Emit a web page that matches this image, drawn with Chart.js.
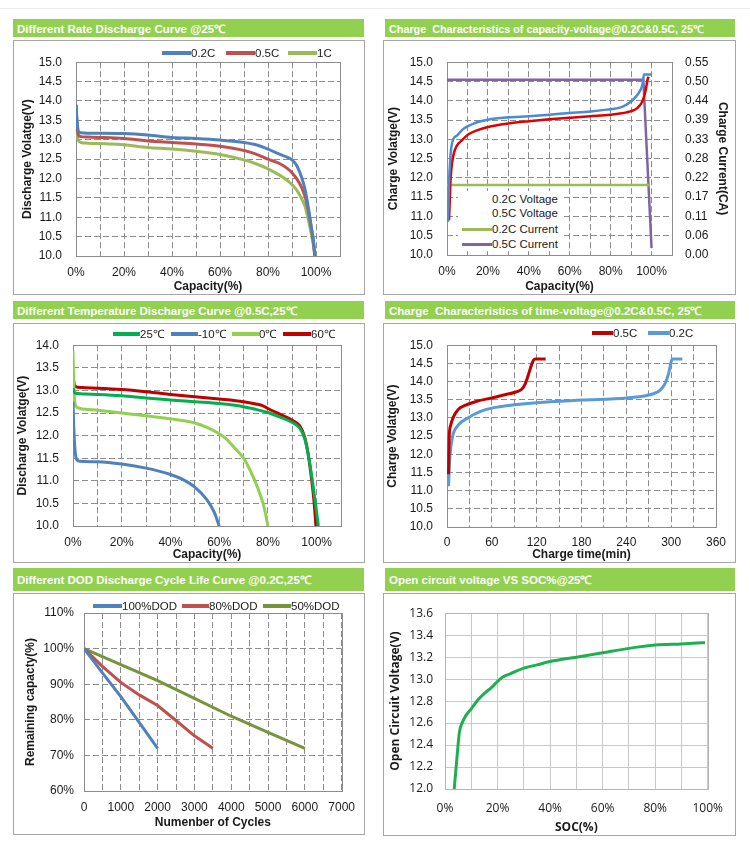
<!DOCTYPE html>
<html lang="en">
<head>
<meta charset="UTF-8">
<title>LiFePO4 12V Battery Curves</title>
<style>
    * { box-sizing: border-box; margin: 0; padding: 0; }
    body {
        width: 750px; height: 854px; position: relative; overflow: hidden;
        background: #fff; font-family: "Liberation Sans", Arial, sans-serif;
    }
    .rule { position: absolute; left: 0; top: 8px; width: 750px; height: 1px; background: #ededed; }
    .head {
        position: absolute; background: #92d050; color: #fff;
        font-weight: bold; font-size: 11.5px; padding-left: 4px;
        white-space: pre; display: flex; align-items: center; overflow: hidden;
    }
    .box { position: absolute; border: 1px solid #a6a6a6; background: #fff; }
    .box canvas { display: block; }
    .leg {
        position: absolute; font-size: 11.5px; color: #1a1a1a; white-space: pre;
        display: flex; align-items: center; height: 14px; line-height: 14px;
    }
    .leg i { display: inline-block; }
    #leg2 { position: absolute; left: 458px; top: 191px; width: 104px; height: 60px; background: #fff; }
</style>
</head>
<body>
    <div class="rule"></div>

    <div class="head" style="left:13px;top:19px;width:351px;height:18px">Different Rate Discharge Curve @25℃</div>
    <div class="box" style="left:13px;top:40px;width:352px;height:255px"><canvas id="c1" width="350" height="253"></canvas></div>

    <div class="head" style="left:385px;top:19px;width:350px;height:18px;font-size:10.8px">Charge  Characteristics of capacity-voltage@0.2C&amp;0.5C, 25℃</div>
    <div class="box" style="left:383px;top:40px;width:353px;height:255px"><canvas id="c2" width="351" height="253"></canvas></div>

    <div class="head" style="left:13px;top:301px;width:351px;height:18px">Different Temperature Discharge Curve @0.5C,25℃</div>
    <div class="box" style="left:13px;top:323px;width:352px;height:240px"><canvas id="c3" width="350" height="238"></canvas></div>

    <div class="head" style="left:385px;top:301px;width:350px;height:18px">Charge  Characteristics of time-voltage@0.2C&amp;0.5C, 25℃</div>
    <div class="box" style="left:383px;top:323px;width:353px;height:240px"><canvas id="c4" width="351" height="238"></canvas></div>

    <div class="head" style="left:13px;top:568px;width:351px;height:23px">Different DOD Discharge Cycle Life Curve @0.2C,25℃</div>
    <div class="box" style="left:13px;top:593px;width:352px;height:242px"><canvas id="c5" width="350" height="240"></canvas></div>

    <div class="head" style="left:385px;top:568px;width:350px;height:23px">Open circuit voltage VS SOC%@25℃</div>
    <div class="box" style="left:383px;top:593px;width:353px;height:243px"><canvas id="c6" width="351" height="241"></canvas></div>

    <div id="leg2"></div>

    <script src="https://cdn.jsdelivr.net/npm/chart.js@4.4.1/dist/chart.umd.min.js"></script>
    <script>
        "use strict";

        // ---- 1. rate discharge (capacity %, volts) ----
        const rateLabels    = ["0.2C", "0.5C", "1C"]
        const rateCapacity  = [0, 0.5, 1, 2, 5, 10, 20, 30, 40, 50, 60, 70, 75, 80, 85, 88, 90, 92, 94, 95.5, 97, 98, 99, 99.5]
        const rateV02       = [13.9, 13.45, 13.22, 13.18, 13.17, 13.17, 13.16, 13.12, 13.06, 13.03, 12.99, 12.93, 12.87, 12.76, 12.62, 12.55, 12.48, 12.33, 12.03, 11.7, 11.18, 10.75, 10.37, 10.0]
        const rateV05       = [13.9, 13.3, 13.12, 13.08, 13.07, 13.06, 13.03, 12.97, 12.93, 12.89, 12.83, 12.72, 12.63, 12.5, 12.38, 12.26, 12.15, 11.99, 11.77, 11.52, 11.1, 10.75, 10.32, 10.0]
        const rateV1        = [13.9, 13.2, 12.98, 12.93, 12.91, 12.9, 12.87, 12.8, 12.76, 12.7, 12.62, 12.48, 12.38, 12.25, 12.08, 11.95, 11.84, 11.7, 11.48, 11.27, 10.88, 10.58, 10.24, 10.0]

        // ---- 2. charge capacity-voltage + current ----
        const chgLabels     = ["0.2C Voltage", "0.5C Voltage", "0.2C Current", "0.5C Current"]
        const chgCap02      = [0.5, 1, 1.5, 2, 3, 5, 7.5, 14, 20, 30, 40, 50, 60, 70, 78, 85, 90, 93, 95.5, 96.3, 100]
        const chgV02        = [10.86, 11.9, 12.4, 12.75, 13.0, 13.1, 13.25, 13.43, 13.51, 13.57, 13.6, 13.64, 13.68, 13.72, 13.77, 13.83, 13.98, 14.15, 14.41, 14.68, 14.68]
        const chgCap05      = [1, 1.8, 3.2, 5, 7, 10.5, 15, 20, 30, 40, 50, 60, 70, 80, 90, 93, 95.5, 97, 98.2, 98.7]
        const chgV05        = [10.9, 12.0, 12.6, 12.85, 12.96, 13.13, 13.24, 13.32, 13.41, 13.47, 13.52, 13.56, 13.6, 13.64, 13.73, 13.81, 13.98, 14.24, 14.58, 14.62]
        const curCap02      = [0, 99]
        const cur02         = [0.2, 0.2]
        const curCap05      = [0, 96, 100]
        const cur05         = [0.5, 0.5, 0.02]
        const currentTicks  = ["0.00", "0.06", "0.11", "0.17", "0.22", "0.28", "0.33", "0.39", "0.44", "0.50", "0.55"]

        // ---- 3. temperature discharge ----
        const tempLabels    = ["25℃", "-10℃", "0℃", "60℃"]
        const tempCap25     = [0, 0.5, 1, 2, 5, 10, 20, 30, 40, 50, 60, 70, 75, 80, 85, 90, 93, 95, 96.5, 98, 99, 100, 100.7]
        const tempV25       = [13.05, 12.97, 12.94, 12.93, 12.92, 12.91, 12.88, 12.83, 12.79, 12.75, 12.71, 12.64, 12.58, 12.51, 12.41, 12.29, 12.17, 11.95, 11.6, 11.1, 10.7, 10.3, 10.0]
        const tempCapM10    = [0, 0.3, 0.8, 1.5, 3, 10, 20, 30, 40, 45, 50, 55, 58, 60]
        const tempVM10      = [12.75, 12.2, 11.7, 11.47, 11.43, 11.42, 11.37, 11.28, 11.14, 11.03, 10.86, 10.58, 10.3, 10.0]
        const tempCap0      = [0, 0.3, 0.7, 1.5, 3, 10, 20, 30, 40, 50, 55, 60, 63, 66, 70, 73, 76, 78, 79, 80]
        const tempV0        = [13.88, 13.2, 12.75, 12.63, 12.6, 12.56, 12.5, 12.44, 12.37, 12.28, 12.18, 12.04, 11.92, 11.75, 11.5, 11.2, 10.82, 10.5, 10.28, 10.0]
        const tempCap60     = [0, 0.3, 1, 2, 5, 10, 20, 30, 40, 50, 60, 70, 75, 78, 80, 85, 90, 93, 95, 96.5, 98, 99, 99.7]
        const tempV60       = [13.42, 13.2, 13.09, 13.07, 13.06, 13.05, 13.02, 12.97, 12.91, 12.86, 12.81, 12.75, 12.7, 12.66, 12.6, 12.47, 12.34, 12.22, 11.98, 11.6, 11.0, 10.5, 10.0]

        // ---- 4. charge time-voltage (min, volts) ----
        const timeLabels    = ["0.5C", "0.2C"]
        const time05        = [2, 2.5, 3, 5, 8, 15, 25, 40, 60, 80, 90, 100, 105, 110, 115, 118, 132]
        const timeV05       = [11.45, 12.0, 12.5, 12.8, 13.0, 13.23, 13.35, 13.46, 13.55, 13.65, 13.7, 13.79, 13.95, 14.26, 14.56, 14.62, 14.62]
        const time02        = [2, 3, 4, 7, 15, 28, 45, 60, 90, 120, 180, 240, 270, 285, 292, 297, 300, 302, 315]
        const timeV02       = [11.12, 11.6, 11.97, 12.45, 12.8, 13.0, 13.18, 13.27, 13.36, 13.42, 13.49, 13.55, 13.63, 13.76, 13.95, 14.26, 14.55, 14.62, 14.62]

        // ---- 5. cycle life (cycles, remaining %) ----
        const dodLabels     = ["100%DOD", "80%DOD", "50%DOD"]
        const dod100Cycles  = [0, 500, 1000, 1500, 2000]
        const dod100        = [100, 93.2, 86.5, 79.3, 72]
        const dod80Cycles   = [0, 500, 1000, 1500, 2000, 2500, 3000, 3500]
        const dod80         = [100, 95, 90.5, 87, 84, 79.8, 75.5, 72]
        const dod50Cycles   = [0, 1000, 2000, 3000, 4000, 5000, 6000]
        const dod50         = [100, 95.5, 91, 86, 81, 76.5, 72]

        // ---- 6. open circuit voltage vs SOC ----
        const socPct        = [3.5, 4.5, 5.5, 6.5, 8, 10, 12.5, 15, 18, 20, 22, 25, 30, 35, 40, 50, 60, 70, 80, 90, 98, 99]
        const ocv           = [12.0, 12.27, 12.52, 12.6, 12.67, 12.73, 12.81, 12.87, 12.93, 12.98, 13.02, 13.05, 13.1, 13.13, 13.16, 13.2, 13.24, 13.28, 13.31, 13.32, 13.33, 13.33]

        Chart.defaults.font.family  = '"Liberation Sans", Arial, sans-serif'
        Chart.defaults.font.size    = 12
        Chart.defaults.color        = '#1a1a1a'

        function pts(xs, ys) { return xs.map((x, i) => ({ x: x, y: ys[i] })) }

        function series(label, xs, ys, color, width, extra) {
            return Object.assign({
                label: label, data: pts(xs, ys), borderColor: color, backgroundColor: color,
                borderWidth: width, pointRadius: 0, fill: false, cubicInterpolationMode: 'monotone'
            }, extra || {})
        }

        // solid frame round the plot area (grid lines are dashed)
        const framePlugin = {
            id: 'frame',
            beforeDatasetsDraw(chart, args, opts) {
                const a = chart.chartArea, ctx = chart.ctx
                ctx.save()
                ctx.strokeStyle = opts.color || '#8c8c8c'
                ctx.lineWidth = 1
                ctx.strokeRect(Math.round(a.left) + 0.5, Math.round(a.top) + 0.5,
                               Math.round(a.right - a.left), Math.round(a.bottom - a.top))
                ctx.restore()
            }
        }

        const dashGrid  = { grid: { color: '#8c8c8c', drawTicks: false }, border: { display: false, dash: [6, 3] } }
        const solidGrid = { grid: { color: '#c8c8c8', drawTicks: false }, border: { display: false } }
        const noGrid    = { grid: { display: false, drawTicks: false }, border: { display: false } }

        function axis(min, max, step, fmt, title, tickPad, titlePad, gridStyle, fontFamily) {
            const f = fontFamily ? { family: fontFamily } : {}
            return Object.assign({
                type: 'linear', min: min, max: max,
                ticks: { stepSize: step, autoSkip: false, maxRotation: 0, padding: tickPad, callback: fmt, font: Object.assign({ size: 12 }, f) },
                title: { display: true, text: title, padding: titlePad,
                         font: Object.assign({ size: 12, weight: 'bold' }, f) }
            }, gridStyle)
        }

        function makeChart(id, area, datasets, xOpts, yOpts, y1Opts, frameColor) {
            const canvas = document.getElementById(id)
            const W = canvas.width, H = canvas.height
            xOpts.afterFit = s => { s.height = H - area.b }
            yOpts.afterFit = s => { s.width = area.l }
            const scales = { x: xOpts, y: yOpts }
            if (y1Opts) {
                y1Opts.position = 'right'
                y1Opts.afterFit = s => { s.width = W - area.r }
                scales.y1 = y1Opts
            }
            return new Chart(canvas, {
                type: 'line',
                data: { datasets: datasets },
                options: {
                    responsive: false,
                    animation: false,
                    layout: { padding: { top: area.t, right: y1Opts ? 0 : W - area.r, bottom: 0, left: 0 } },
                    plugins: { legend: { display: false }, tooltip: { enabled: false }, frame: { color: frameColor } },
                    scales: scales
                },
                plugins: [framePlugin]
            })
        }

        // html legend entries: line swatch + label
        function legend(parent, left, top, color, text, len, thick) {
            const d = document.createElement('div')
            d.className = 'leg'
            d.style.left = left + 'px'
            d.style.top = (top - 7) + 'px'
            const sw = document.createElement('i')
            sw.style.width = len + 'px'
            sw.style.height = thick + 'px'
            sw.style.background = color
            const t = document.createElement('span')
            t.textContent = text
            d.appendChild(sw)
            d.appendChild(t)
            parent.appendChild(d)
        }

        const pct20 = v => (v % 20 === 0 && v <= 100) ? v + '%' : ''
        const fix1  = v => v.toFixed(1)

        // 1
        makeChart('c1', { l: 62, t: 20, r: 326, b: 215 }, [
            series(rateLabels[0], rateCapacity, rateV02, '#4f81bd', 3),
            series(rateLabels[1], rateCapacity, rateV05, '#c0504d', 3),
            series(rateLabels[2], rateCapacity, rateV1, '#9bbb59', 3)
        ],
            axis(0, 110, 10, pct20, 'Capacity(%)', 9, { top: 0, bottom: 0 }, dashGrid),
            axis(10, 15, 0.5, fix1, 'Discharge Volatge(V)', 14, { top: 6, bottom: 0 }, dashGrid))

        // 2
        makeChart('c2', { l: 63, t: 19, r: 288, b: 214 }, [
            series(chgLabels[0], chgCap02, chgV02, '#4a8bd4', 2.5),
            series(chgLabels[1], chgCap05, chgV05, '#e00000', 2.5),
            series(chgLabels[2], curCap02, cur02, '#9bbb59', 2.5, { yAxisID: 'y1', cubicInterpolationMode: 'default', tension: 0 }),
            series(chgLabels[3], curCap05, cur05, '#8064a2', 2.5, { yAxisID: 'y1', cubicInterpolationMode: 'default', tension: 0 })
        ],
            axis(0, 110, 10, pct20, 'Capacity(%)', 9, { top: 0, bottom: 0 }, dashGrid),
            axis(10, 15, 0.5, fix1, 'Charge Volatge(V)', 14, { top: 2, bottom: 0 }, dashGrid),
            axis(0, 0.55, 0.055, (v, i) => currentTicks[i], 'Charge Current(CA)', 13, { top: 5, bottom: 0 }, noGrid))

        // 3
        makeChart('c3', { l: 59, t: 19, r: 327, b: 202 }, [
            series(tempLabels[0], tempCap25, tempV25, '#00b050', 3),
            series(tempLabels[1], tempCapM10, tempVM10, '#4f81bd', 3),
            series(tempLabels[2], tempCap0, tempV0, '#92d050', 3),
            series(tempLabels[3], tempCap60, tempV60, '#c00000', 3)
        ],
            axis(0, 110, 10, pct20, 'Capacity(%)', 9, { top: 0, bottom: 0 }, dashGrid),
            axis(10, 14, 0.5, fix1, 'Discharge Volatge(V)', 14, { top: 1, bottom: 0 }, dashGrid))

        // 4
        makeChart('c4', { l: 63, t: 17, r: 332, b: 203 }, [
            series(timeLabels[0], time05, timeV05, '#c00000', 3),
            series(timeLabels[1], time02, timeV02, '#5b9bd5', 3)
        ],
            axis(0, 360, 30, v => v % 60 === 0 ? String(v) : '', 'Charge time(min)', 8, { top: 0, bottom: 0 }, dashGrid),
            axis(10, 15, 0.5, fix1, 'Charge Volatge(V)', 14, { top: 1, bottom: 0 }, dashGrid))

        // 5
        makeChart('c5', { l: 70, t: 19, r: 329, b: 197 }, [
            series(dodLabels[0], dod100Cycles, dod100, '#4f81bd', 3, { cubicInterpolationMode: 'default', tension: 0 }),
            series(dodLabels[1], dod80Cycles, dod80, '#c0504d', 3, { cubicInterpolationMode: 'default', tension: 0 }),
            series(dodLabels[2], dod50Cycles, dod50, '#77933c', 3, { cubicInterpolationMode: 'default', tension: 0 })
        ],
            axis(0, 7000, 500, v => v % 1000 === 0 ? String(v) : '', 'Numenber of Cycles', 9, { top: 0, bottom: 4 }, dashGrid),
            axis(60, 110, 10, v => v + '%', 'Remaining capacty(%)', 10, { top: 9, bottom: 0 }, dashGrid))

        // 6
        makeChart('c6', { l: 61, t: 14, r: 330, b: 195 }, [
            series('OCV', socPct, ocv, '#1eb050', 3)
        ],
            axis(0, 100, 10, pct20, 'SOC(%)', 12, { top: 0, bottom: 0 }, solidGrid, '"Open Sans", sans-serif'),
            axis(12, 13.6, 0.2, fix1, 'Open Circuit Voltage(V)', 12, { top: 4, bottom: 0 }, solidGrid, '"Open Sans", sans-serif'),
            null, '#b4b4b4')

        // legends
        const body = document.body
        legend(body, 162, 53, '#4f81bd', rateLabels[0], 29, 4)
        legend(body, 226, 53, '#c0504d', rateLabels[1], 29, 4)
        legend(body, 288, 53, '#9bbb59', rateLabels[2], 29, 4)

        const leg2 = document.getElementById('leg2')
        legend(leg2, 4, 8, 'transparent', chgLabels[0], 30, 3)
        legend(leg2, 4, 22, 'transparent', chgLabels[1], 30, 3)
        legend(leg2, 4, 38, '#9bbb59', chgLabels[2], 30, 3)
        legend(leg2, 4, 53, '#8064a2', chgLabels[3], 30, 3)

        legend(body, 113, 334, '#00b050', tempLabels[0], 27, 4)
        legend(body, 171, 334, '#4f81bd', tempLabels[1], 27, 4)
        legend(body, 232, 334, '#92d050', tempLabels[2], 27, 4)
        legend(body, 283, 334, '#c00000', tempLabels[3], 28, 4)

        legend(body, 592, 333, '#c00000', timeLabels[0], 21, 4)
        legend(body, 648, 333, '#5b9bd5', timeLabels[1], 21, 4)

        legend(body, 93, 606, '#4f81bd', dodLabels[0], 29, 4)
        legend(body, 182, 606, '#c0504d', dodLabels[1], 27, 4)
        legend(body, 263, 606, '#77933c', dodLabels[2], 28, 4)
    </script>
</body>
</html>
